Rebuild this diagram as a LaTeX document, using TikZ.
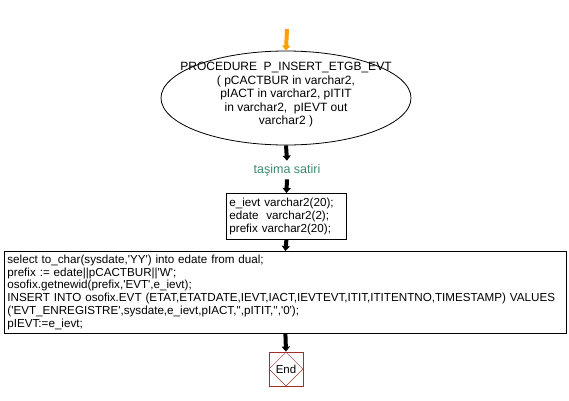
\documentclass[tikz,border=0pt]{standalone}
\usepackage{fontspec}
\newfontfamily\arial{Liberation Sans}
\usetikzlibrary{arrows.meta,shapes.geometric}
\definecolor{labgreen}{RGB}{60,138,112}
\definecolor{endred}{RGB}{160,48,48}
\definecolor{startorange}{RGB}{255,160,0}
\newcommand\mycodefont{\arial\fontsize{11.65}{12.9}\selectfont}
\tikzset{
  flow/.style={line width=4pt,-{Triangle[length=5pt,width=8pt]}},
  codebox/.style={draw,line width=0.8pt,align=left,anchor=north west,inner xsep=3pt,inner ysep=1pt,font=\mycodefont,execute at begin node={\hyphenpenalty=10000 \exhyphenpenalty=10000 \relax}},
  txt/.style={font=\arial\fontsize{12}{13.5}\selectfont}
}
\begin{document}
\begin{tikzpicture}[x=1pt,y=-1pt]
\useasboundingbox (0,0) rectangle (569,400);
\coordinate (start) at (287,29);
\node[draw,ellipse,line width=0.8pt,minimum width=250pt,minimum height=94pt,inner sep=0pt] (proc) at (286,98) {};
\node[txt,align=center] (proctxt) at (286,95) {PROCEDURE\ \ P\_INSERT\_ETGB\_EVT\\( pCACTBUR in varchar2,\\pIACT in varchar2, pITIT\\in varchar2,\ \ pIEVT out\\varchar2 )};
\node[txt,text=labgreen,font=\arial\fontsize{12.5}{14}\selectfont] (lab) at (287,170) {taşima satiri};
\node[codebox,text width=114pt,minimum height=46pt] (decl) at (226,193) {e\_ievt varchar2(20);\\edate\ \ varchar2(2);\\prefix varchar2(20);};
\node[codebox,text width=556pt,minimum height=82pt] (body) at (4,251) {select to\_char(sysdate,'YY') into edate from dual;\\prefix := edate||pCACTBUR||'W';\\osofix.getnewid(prefix,'EVT',e\_ievt);\\INSERT INTO osofix.EVT (ETAT,ETATDATE,IEVT,IACT,IEVTEVT,ITIT,ITITENTNO,TIMESTAMP) VALUES\\('EVT\_ENREGISTRE',sysdate,e\_ievt,pIACT,'',pITIT,'','0');\\pIEVT:=e\_ievt;};
\node[draw=endred,line width=0.8pt,minimum width=34pt,minimum height=34pt,inner sep=0pt] (endsq) at (286,369) {};
\node[draw=endred,diamond,line width=0.5pt,minimum width=34pt,minimum height=34pt,inner sep=0pt,font=\arial\fontsize{11.5}{12}\selectfont] (end) at (286,369) {End};
\draw[flow,draw=startorange,fill=startorange] (start) -- (proc.north);
\draw[flow] (proc.south) -- (lab.north);
\draw[flow] (lab.south) -- (decl.north);
\draw[flow] (decl.south) -- (body.north);
\draw[flow] (body.south) -- (endsq.north);
\end{tikzpicture}
\end{document}
